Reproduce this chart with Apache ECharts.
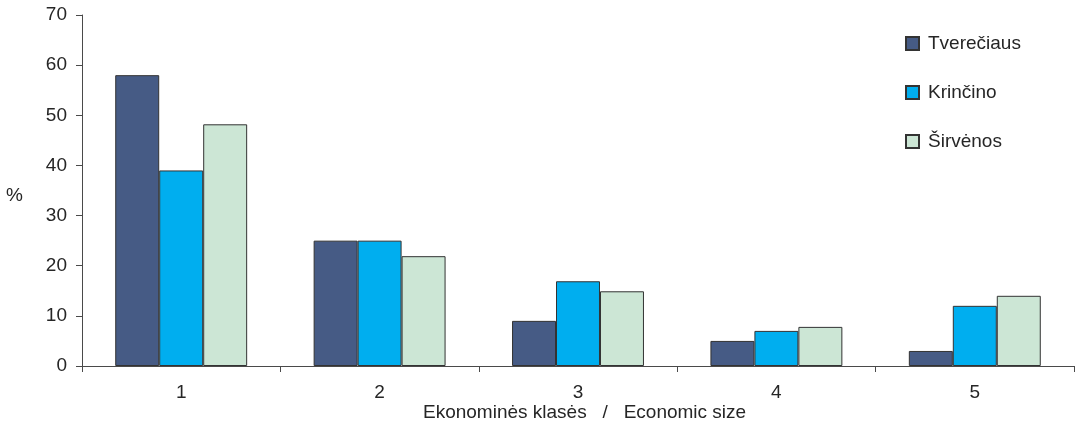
<!DOCTYPE html>
<html>
<head>
<meta charset="utf-8">
<script src="https://cdn.jsdelivr.net/npm/echarts@6/dist/echarts.min.js"></script>
<style>
  html, body { margin: 0; padding: 0; background: #fff; }
  #chart { width: 1076px; height: 423px; }
</style>
</head>
<body>
<div id="chart"></div>
<script>
// Economic size classes of farms (share of farms, %)
const categories = ['1', '2', '3', '4', '5'];
const tvereciaus = [58, 25, 9, 5, 3];
const krincino = [39, 25, 16.9, 7, 12];
const sirvenos = [48.2, 21.9, 14.9, 7.8, 14];
const yTicks = { min: 0, max: 70, interval: 10 };

const FONT = '"Liberation Sans", Arial, sans-serif';
const FS = 19;
const TEXT = '#262626';
const AXIS = '#4a4a4a';

const chart = echarts.init(document.getElementById('chart'), null, { renderer: 'canvas' });

function barSeries(name, data, color) {
  return {
    name: name,
    type: 'bar',
    data: data,
    barGap: '0%',
    barCategoryGap: '33.5%',
    itemStyle: { color: color, borderColor: '#333', borderWidth: 1 },
    emphasis: { disabled: true }
  };
}

chart.setOption({
  animation: false,
  textStyle: { fontFamily: FONT },
  grid: { left: 82, right: 2, top: 15, bottom: 57, containLabel: false },
  legend: {
    orient: 'vertical',
    left: 900,
    top: 29,
    itemWidth: 13,
    itemHeight: 13,
    itemGap: 30,
    icon: 'rect',
    textStyle: { fontFamily: FONT, fontSize: FS, color: TEXT, padding: [0, 0, 0, 4] },
    data: ['Tverečiaus', 'Krinčino', 'Širvėnos']
  },
  xAxis: {
    type: 'category',
    data: categories,
    axisLine: { lineStyle: { color: AXIS, width: 1 } },
    axisTick: { show: true, length: 6, lineStyle: { color: AXIS } },
    axisLabel: { fontFamily: FONT, fontSize: FS, color: TEXT, margin: 17 },
    splitLine: { show: false }
  },
  yAxis: {
    type: 'value',
    min: yTicks.min,
    max: yTicks.max,
    interval: yTicks.interval,
    axisLine: { show: true, lineStyle: { color: AXIS, width: 1 } },
    axisTick: { show: true, length: 6, lineStyle: { color: AXIS } },
    axisLabel: { fontFamily: FONT, fontSize: FS, color: TEXT, margin: 15 },
    splitLine: { show: false }
  },
  graphic: [
    {
      type: 'text',
      left: 6,
      top: 186,
      style: { text: '%', fontFamily: FONT, fontSize: FS, fill: TEXT }
    },
    {
      type: 'text',
      left: 423,
      top: 403,
      style: {
        text: 'Ekonominės klasės   /   Economic size',
        fontFamily: FONT, fontSize: FS, fill: TEXT
      }
    }
  ],
  series: [
    barSeries('Tverečiaus', tvereciaus, '#465b85'),
    barSeries('Krinčino', krincino, '#00aeef'),
    barSeries('Širvėnos', sirvenos, '#cce6d5')
  ]
});
</script>
</body>
</html>
